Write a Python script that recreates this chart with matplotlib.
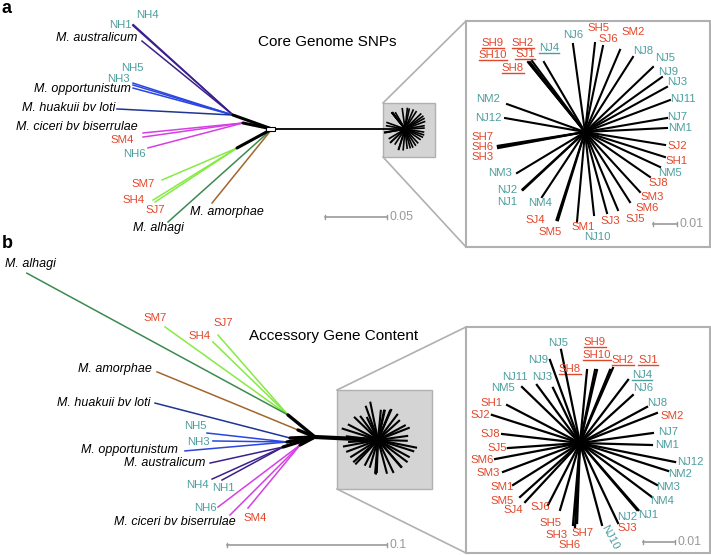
import matplotlib
matplotlib.use("Agg")
import numpy as np
import matplotlib.pyplot as plt
from matplotlib.patches import Rectangle

plt.rcParams['font.family'] = ['Liberation Sans', 'DejaVu Sans']

# ---------------- data ----------------
# angles in degrees (counter-clockwise), branch lengths in substitutions/site

# panel a: core genome SNPs, main tree
A_NODES = ['root', 'n_loti', 'n_cic', 'n_lime', 'star']
A_NODE_PARENT = [None, 'root', 'root', 'root', 'root']
A_NODE_ANGLE = [0.0, 160.3, 168.3, -151.5, 0.0]
A_NODE_LEN = [0.0, 0.0334, 0.0239, 0.0321, 0.1073]

A_LEAVES = ['NH4', 'NH1', 'M. australicum', 'NH5', 'NH3', 'M. opportunistum',
            'M. huakuii bv loti', 'M. ciceri bv biserrulae', 'SM4', 'NH6',
            'SM7', 'SH4', 'SJ7', 'M. alhagi', 'M. amorphae']
A_LEAF_PARENT = ['n_loti'] * 7 + ['n_cic'] * 3 + ['n_lime'] * 3 + ['root', 'root']
A_LEAF_ANGLE = [138.2, 137.8, 140.9, 162.3, 163.3, 164.9, 177.0, -174.3, -172.0,
                -165.3, -156.9, -148.2, -146.6, -138.2, -129.0]
A_LEAF_LEN = [0.1085, 0.1085, 0.0946, 0.0847, 0.0842, 0.0835, 0.0937, 0.0810,
              0.0814, 0.0792, 0.0657, 0.0797, 0.0792, 0.1125, 0.0768]
A_LEAF_CLADE = ['aus', 'aus', 'aus', 'opp', 'opp', 'opp', 'loti', 'cic', 'cic',
                'cic', 'lime', 'lime', 'lime', 'alh', 'amo']

# panel a: star of field isolates (inset)
SA_LEAVES = ['SH9', 'SH2', 'SH10', 'SJ1', 'SH8', 'NJ4', 'NJ6', 'SH5', 'SJ6', 'SM2',
             'NJ8', 'NJ5', 'NJ9', 'NJ3', 'NJ11', 'NJ7', 'NM1', 'SJ2', 'SH1', 'NM5',
             'SJ8', 'SM3', 'SM6', 'SJ5', 'SJ3', 'NJ10', 'SM1', 'SM5', 'SJ4', 'NM4',
             'NJ2', 'NJ1', 'NM3', 'SH7', 'SH6', 'SH3', 'NJ12', 'NM2']
SA_ANGLE = [129.2, 128.2, 129.1, 126.7, 128.5, 120.4, 97.8, 83.6, 78.2, 66.9,
            57.4, 43.7, 35.5, 28.8, 20.6, 9.7, 2.8, -9.2, -17.4, -25.0,
            -34.7, -47.5, -57.3, -67.1, -74.8, -83.8, -95.1, -107.0, -108.0, -123.5,
            -136.9, -137.5, -148.9, -169.5, -170.2, -171.0, 170.1, 160.3]
SA_LEN = [0.0376, 0.0371, 0.0370, 0.0369, 0.0362, 0.0338, 0.0370, 0.0373, 0.0366, 0.0372,
          0.0371, 0.0392, 0.0394, 0.0390, 0.0378, 0.0347, 0.0342, 0.0338, 0.0349, 0.0345,
          0.0329, 0.0339, 0.0347, 0.0353, 0.0350, 0.0348, 0.0377, 0.0385, 0.0385, 0.0325,
          0.0354, 0.0354, 0.0331, 0.0368, 0.0368, 0.0368, 0.0338, 0.0345]

# panel b: accessory gene content, main tree
B_NODES = ['root', 'n_lime', 'n_amo', 'n_loti', 'n_opp', 'n_aus', 'n_cic', 'star']
B_NODE_PARENT = [None, 'root', 'root', 'root', 'root', 'root', 'root', 'root']
B_NODE_ANGLE = [0.0, 140.8, 157.6, -177.7, -169.9, -162.6, -151.9, -2.7]
B_NODE_LEN = [0.0, 0.0218, 0.0115, 0.0156, 0.0178, 0.0209, 0.0106, 0.0394]

B_LEAVES = ['SM7', 'SH4', 'SJ7', 'M. alhagi', 'M. amorphae', 'M. huakuii bv loti',
            'NH5', 'NH3', 'M. opportunistum', 'M. australicum', 'NH4', 'NH1',
            'NH6', 'M. ciceri bv biserrulae', 'SM4']
B_LEAF_PARENT = ['n_lime'] * 4 + ['n_amo', 'n_loti'] + ['n_opp'] * 3 + ['n_aus'] * 3 + ['n_cic'] * 3
B_LEAF_ANGLE = [144.4, 135.8, 131.2, 151.5, 157.6, 165.5, 173.6, 179.2, -175.0,
                -167.6, -155.7, -151.6, -142.9, -135.0, -129.5]
B_LEAF_LEN = [0.0945, 0.0654, 0.0664, 0.1857, 0.0953, 0.0872, 0.0503, 0.0463, 0.0640,
              0.0467, 0.0487, 0.0434, 0.0643, 0.0619, 0.0511]
B_LEAF_CLADE = ['lime', 'lime', 'lime', 'alh', 'amo', 'loti', 'opp', 'opp', 'opp',
                'aus', 'aus', 'aus', 'cic', 'cic', 'cic']

# panel b: star of field isolates (inset)
SB_LEAVES = ['NJ5', 'NJ9', 'NJ3', 'NJ11', 'NM5', 'SH1', 'SJ2', 'SJ8', 'SJ5', 'SM6',
             'SM3', 'SM1', 'SM5', 'SJ4', 'SJ6', 'SH5', 'SH3', 'SH6', 'SH7', 'NJ10',
             'SJ3', 'NJ2', 'NJ1', 'NM4', 'NM3', 'NM2', 'NJ12', 'NM1', 'NJ7', 'SM2',
             'NJ8', 'NJ6', 'NJ4', 'SJ1', 'SH2', 'SH9', 'SH10', 'SH8']
SB_ANGLE = [101.5, 109.9, 116.1, 126.6, 136.0, 152.5, 162.3, 173.4, -176.0, -169.3,
            -159.4, -147.9, -138.0, -132.9, -117.3, -106.6, -94.9, -93.4, -92.1, -75.0,
            -64.6, -49.6, -48.9, -36.9, -28.6, -17.6, -11.3, -1.6, 7.8, 21.3,
            28.3, 42.2, 52.7, 66.3, 67.7, 76.9, 78.4, 84.5]
SB_LEN = [0.0297, 0.0276, 0.0192, 0.0226, 0.0252, 0.0257, 0.0289, 0.0245, 0.0226, 0.0270,
          0.0257, 0.0247, 0.0252, 0.0252, 0.0218, 0.0218, 0.0257, 0.0263, 0.0250, 0.0265,
          0.0277, 0.0275, 0.0278, 0.0281, 0.0274, 0.0289, 0.0303, 0.0225, 0.0230, 0.0258,
          0.0238, 0.0223, 0.0248, 0.0256, 0.0247, 0.0234, 0.0233, 0.0229]

UNDERLINED = ['SH9', 'SH2', 'SH10', 'SJ1', 'SH8', 'NJ4']
SCALE_A_MAIN, SCALE_A_INSET = 0.05, 0.01
SCALE_B_MAIN, SCALE_B_INSET = 0.1, 0.01

# ---------------- styling / layout ----------------
CLADE_COLORS = {'aus': '#3b1f8c', 'opp': '#2b45e0', 'loti': '#1f3596', 'cic': '#d63fe6',
                'lime': '#86ea44', 'alh': '#3d8a4f', 'amo': '#a2652c'}
TEAL = '#4c9e9e'
RED = '#e2472b'
GREY = '#999999'
FS = 8.2          # isolate codes
FS_SPECIES = 9.0  # species names (italic)

A_ROOT, A_PX = (272, 129), 1240
A_HUB, A_INSET_PX, A_MINI_PX = (585, 132), 2400, 552
B_ROOT, B_PX = (315, 437), 1600
B_HUB, B_INSET_PX, B_MINI_PX = (580, 443), 3200, 1280

A_MAIN_LABEL_XY = {
    'NH4': (147, 15, 'center'), 'NH1': (132, 25, 'right'), 'M. australicum': (137, 38, 'right'),
    'NH5': (132, 68, 'center'), 'NH3': (118, 79, 'center'), 'M. opportunistum': (131, 89, 'right'),
    'M. huakuii bv loti': (115, 108, 'right'), 'M. ciceri bv biserrulae': (138, 127, 'right'),
    'SM4': (122, 140, 'center'), 'NH6': (134, 154, 'center'), 'SM7': (143, 184, 'center'),
    'SH4': (134, 200, 'center'), 'SJ7': (155, 210, 'center'), 'M. alhagi': (158, 228, 'center'),
    'M. amorphae': (227, 212, 'center')}
B_MAIN_LABEL_XY = {
    'M. alhagi': (30, 264, 'center'), 'SM7': (155, 318, 'center'), 'SH4': (200, 336, 'center'),
    'SJ7': (223, 323, 'center'), 'M. amorphae': (152, 369, 'right'),
    'M. huakuii bv loti': (150, 403, 'right'), 'NH5': (195, 426, 'center'),
    'NH3': (198, 442, 'center'), 'M. opportunistum': (178, 450, 'right'),
    'M. australicum': (205, 463, 'right'), 'NH4': (197, 485, 'center'),
    'NH1': (223, 488, 'center'), 'NH6': (205, 508, 'center'),
    'M. ciceri bv biserrulae': (175, 522, 'center'), 'SM4': (255, 518, 'center')}
SA_LABEL_XY = {
    'SH9': (493, 43), 'SH2': (523, 43), 'SH10': (493, 55), 'SJ1': (525, 54), 'SH8': (513, 68),
    'NJ4': (549, 48), 'NJ6': (573, 35), 'SH5': (598, 28), 'SJ6': (608, 39), 'SM2': (633, 32),
    'NJ8': (643, 51), 'NJ5': (665, 58), 'NJ9': (668, 72), 'NJ3': (677, 82), 'NJ11': (683, 99),
    'NJ7': (677, 117), 'NM1': (680, 128), 'SJ2': (677, 146), 'SH1': (677, 161), 'NM5': (670, 173),
    'SJ8': (658, 183), 'SM3': (652, 197), 'SM6': (647, 208), 'SJ5': (635, 219), 'SJ3': (610, 221),
    'SM1': (583, 227), 'NJ10': (597, 237), 'SJ4': (535, 220), 'SM5': (550, 232), 'NM4': (540, 203),
    'NJ2': (507, 190), 'NJ1': (507, 202), 'NM3': (500, 173), 'SH7': (483, 137), 'SH6': (483, 147),
    'SH3': (483, 157), 'NJ12': (488, 118), 'NM2': (488, 99)}
SB_LABEL_XY = {
    'NJ5': (558, 343), 'NJ9': (538, 360), 'NJ11': (515, 377), 'NJ3': (542, 377), 'NM5': (503, 388),
    'SH1': (492, 403), 'SJ2': (480, 415), 'SJ8': (490, 434), 'SJ5': (497, 448), 'SM6': (482, 460),
    'SM3': (488, 473), 'SM1': (502, 487), 'SM5': (502, 501), 'SJ4': (513, 510), 'SJ6': (540, 507),
    'SH5': (550, 523), 'SH3': (557, 535), 'SH7': (583, 533), 'SH6': (570, 545), 'NJ10': (610, 537),
    'SJ3': (627, 528), 'NJ2': (627, 517), 'NJ1': (648, 515), 'NM4': (662, 501), 'NM3': (668, 487),
    'NM2': (680, 474), 'NJ12': (690, 462), 'NM1': (667, 445), 'NJ7': (668, 432), 'SM2': (672, 416),
    'NJ8': (657, 403), 'NJ6': (643, 388), 'NJ4': (642, 375), 'SJ1': (648, 360), 'SH2': (623, 360),
    'SH9': (595, 342), 'SH10': (597, 355), 'SH8': (570, 369)}


def step(xy, angle, length, px):
    a = np.radians(angle)
    return (xy[0] + length * px * np.cos(a), xy[1] - length * px * np.sin(a))


def node_positions(root_xy, px, names, parents, angles, lengths):
    pos = {}
    for n, p, a, l in zip(names, parents, angles, lengths):
        pos[n] = root_xy if p is None else step(pos[p], a, l, px)
    return pos


def label_color(name):
    if name.startswith('M.'):
        return 'black'
    return TEAL if name.startswith('N') else RED


texts_to_underline = []


def put_label(ax, name, x, y, ha='center', rot=0):
    species = name.startswith('M.')
    t = ax.text(x, y, name, ha=ha, va='center', fontsize=FS_SPECIES if species else FS,
                color=label_color(name), fontstyle='italic' if species else 'normal',
                rotation=rot, rotation_mode='anchor')
    if name in UNDERLINED:
        texts_to_underline.append(t)
    return t


def draw_main(ax, root, px, nodes, nparents, nangles, nlens, leaves, lparents, langles, llens,
              clades, label_xy, node_lw, star_lw):
    pos = node_positions(root, px, nodes, nparents, nangles, nlens)
    for n, p in zip(nodes, nparents):
        if p is None:
            continue
        lw = star_lw if n == 'star' else node_lw
        ax.plot([pos[p][0], pos[n][0]], [pos[p][1], pos[n][1]], color='black', lw=lw,
                solid_capstyle='round', zorder=3)
    for name, p, a, l, c in zip(leaves, lparents, langles, llens, clades):
        tip = step(pos[p], a, l, px)
        ax.plot([pos[p][0], tip[0]], [pos[p][1], tip[1]], color=CLADE_COLORS[c], lw=1.1, zorder=2)
        x, y, ha = label_xy[name]
        put_label(ax, name, x, y, ha)
    return pos


def draw_star(ax, hub, px, angles, lens, lw, zorder=3):
    for a, l in zip(angles, lens):
        tip = step(hub, a, l, px)
        ax.plot([hub[0], tip[0]], [hub[1], tip[1]], color='black', lw=lw, zorder=zorder)


def draw_boxes(ax, small, big):
    sx, sy, sw, sh = small
    bx, by, bw, bh = big
    ax.add_patch(Rectangle((sx, sy), sw, sh, fc='#d4d4d4', ec='#b0b0b0', lw=1.0, zorder=1))
    ax.add_patch(Rectangle((bx, by), bw, bh, fc='white', ec='#b0b0b0', lw=1.5, zorder=1))
    ax.plot([sx, bx], [sy, by], color='#b0b0b0', lw=1.2, zorder=1)
    ax.plot([sx, bx], [sy + sh, by + bh], color='#b0b0b0', lw=1.2, zorder=1)


def scale_bar(ax, x0, y, value, px):
    x1 = x0 + value * px
    ax.plot([x0, x1], [y, y], color=GREY, lw=1.2)
    ax.plot([x0, x0], [y - 2, y + 2], color=GREY, lw=1.0)
    ax.plot([x1, x1], [y - 2, y + 2], color=GREY, lw=1.0)
    ax.text(x1 + 2, y, f'{value:g}', ha='left', va='center', fontsize=FS + 0.7, color=GREY)


fig = plt.figure(figsize=(7.11, 5.55), dpi=100)
ax = fig.add_axes([0, 0, 1, 1])
ax.set_xlim(0, 711)
ax.set_ylim(555, 0)
ax.axis('off')

# ---- panel a ----
draw_boxes(ax, (383, 103, 52, 54), (466, 21, 244, 226))
pos_a = draw_main(ax, A_ROOT, A_PX, A_NODES, A_NODE_PARENT, A_NODE_ANGLE, A_NODE_LEN,
                  A_LEAVES, A_LEAF_PARENT, A_LEAF_ANGLE, A_LEAF_LEN, A_LEAF_CLADE,
                  A_MAIN_LABEL_XY, node_lw=2.2, star_lw=1.3)
ax.add_patch(Rectangle((A_ROOT[0] - 6, A_ROOT[1] - 2), 9, 4, fc='white', ec='black', lw=0.8, zorder=4))
draw_star(ax, pos_a['star'], A_MINI_PX, SA_ANGLE, SA_LEN, lw=1.2)
draw_star(ax, A_HUB, A_INSET_PX, SA_ANGLE, SA_LEN, lw=1.5)
for name in SA_LEAVES:
    x, y = SA_LABEL_XY[name]
    put_label(ax, name, x, y)
scale_bar(ax, 325, 217, SCALE_A_MAIN, A_PX)
scale_bar(ax, 653, 224, SCALE_A_INSET, A_INSET_PX)
ax.text(327, 42, 'Core Genome SNPs', ha='center', va='center', fontsize=11)
ax.text(2, 0, 'a', ha='left', va='top', fontsize=13, fontweight='bold')

# ---- panel b ----
draw_boxes(ax, (337, 390, 95, 99), (466, 327, 244, 226))
pos_b = draw_main(ax, B_ROOT, B_PX, B_NODES, B_NODE_PARENT, B_NODE_ANGLE, B_NODE_LEN,
                  B_LEAVES, B_LEAF_PARENT, B_LEAF_ANGLE, B_LEAF_LEN, B_LEAF_CLADE,
                  B_MAIN_LABEL_XY, node_lw=2.4, star_lw=3.0)
draw_star(ax, pos_b['star'], B_MINI_PX, SB_ANGLE, SB_LEN, lw=1.5)
draw_star(ax, B_HUB, B_INSET_PX, SB_ANGLE, SB_LEN, lw=1.6)
for name in SB_LEAVES:
    x, y = SB_LABEL_XY[name]
    put_label(ax, name, x, y, rot=-62 if name == 'NJ10' else 0)
scale_bar(ax, 227, 545, SCALE_B_MAIN, B_PX)
scale_bar(ax, 643, 542, SCALE_B_INSET, B_INSET_PX)
ax.text(334, 336, 'Accessory Gene Content', ha='center', va='center', fontsize=11)
ax.text(2, 244, 'b', ha='left', va='center', fontsize=13, fontweight='bold')

# underline the highlighted isolates
fig.canvas.draw()
renderer = fig.canvas.get_renderer()
inv = ax.transData.inverted()
for t in texts_to_underline:
    bb = t.get_window_extent(renderer)
    (x0, y0), (x1, y1) = inv.transform([[bb.x0, bb.y0], [bb.x1, bb.y1]])
    ax.plot([x0, x1], [y0 + 0.3, y0 + 0.3], color=t.get_color(), lw=1.0)

fig.savefig('out.png', dpi=100)
